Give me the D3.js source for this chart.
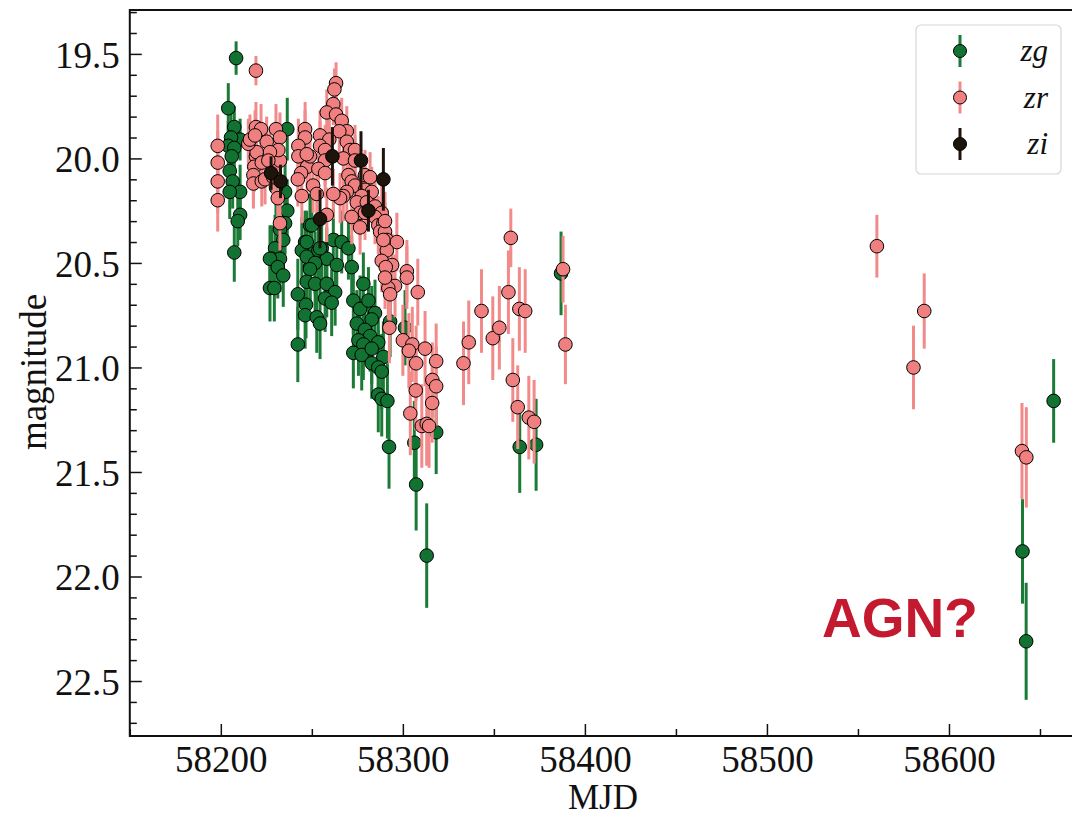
<!DOCTYPE html>
<html>
<head>
<meta charset="utf-8">
<script src="https://cdn.jsdelivr.net/npm/d3@7"></script>
<style>
	body { margin: 0; background: #fff; }
	svg { display: block; }
	text { font-family: "Liberation Serif", "DejaVu Serif", serif; fill: #111; }
</style>
</head>
<body>
<svg id="chart" width="1072" height="821"></svg>
<script>
// zg band
let zgMjd = [58208.4, 58204.1, 58207.4, 58210.6, 58205.6, 58204.1, 58207.4, 58206.0, 58204.9, 58206.5, 58210.6, 58204.9, 58210.6, 58209.3, 58207.4,
	58236.5, 58235.3, 58236.5, 58235.3, 58232.5, 58234.3, 58229.8, 58228.0, 58232.5, 58227.0, 58231.3, 58234.3, 58227.0, 58229.4, 58242.3, 58242.3,
	58249.0, 58246.3, 58244.5, 58249.0, 58246.8, 58246.3, 58247.2, 58253.6, 58255.4, 58261.8, 58266.4, 58270.1, 58258.2, 58263.7, 58271.9, 58251.8,
	58249.0, 58247.2, 58251.8, 58258.2, 58262.8, 58257.3, 58260.9, 58252.7, 58254.5, 58278.3, 58272.8, 58276.5, 58281.1, 58284.7, 58282.9, 58274.7,
	58279.2, 58282.0, 58286.5, 58275.6, 58278.3, 58272.8, 58277.4, 58282.9, 58289.3, 58282.9, 58286.5, 58288.4, 58286.5, 58288.4, 58291.5, 58293.0,
	58301.2, 58250.0, 58247.2, 58254.5, 58292.4, 58306.3, 58307.3, 58313.1, 58318.3, 58364.2, 58373.2, 58386.9, 58640.4, 58642.4, 58657.5, 58230.3];
let zgMag = [19.52, 19.76, 19.85, 19.91, 19.90, 19.94, 19.95, 19.99, 20.06, 20.11, 20.16, 20.16, 20.27, 20.30, 20.45,
	19.86, 20.16, 20.25, 20.31, 20.34, 20.39, 20.43, 20.48, 20.48, 20.48, 20.52, 20.56, 20.62, 20.62, 20.65, 20.89,
	20.32, 20.40, 20.44, 20.52, 20.70, 20.75, 20.47, 20.44, 20.43, 20.39, 20.40, 20.43, 20.48, 20.51, 20.52, 20.50,
	20.53, 20.59, 20.60, 20.60, 20.64, 20.67, 20.69, 20.76, 20.79, 20.60, 20.68, 20.72, 20.68, 20.74, 20.77, 20.79,
	20.82, 20.85, 20.88, 20.87, 20.89, 20.93, 20.94, 20.91, 20.95, 20.98, 21.00, 21.02, 21.13, 21.15, 21.16, 20.78,
	20.81, 20.32, 20.40, 20.43, 21.38, 21.36, 21.56, 21.90, 21.31, 21.38, 21.37, 20.55, 21.88, 22.31, 21.16, 20.14];
let zgErr = [0.08, 0.12, 0.10, 0.10, 0.12, 0.12, 0.12, 0.12, 0.13, 0.13, 0.13, 0.13, 0.12, 0.12, 0.14,
	0.15, 0.15, 0.15, 0.15, 0.15, 0.15, 0.16, 0.16, 0.16, 0.16, 0.15, 0.15, 0.16, 0.16, 0.17, 0.18,
	0.15, 0.15, 0.16, 0.16, 0.16, 0.16, 0.15, 0.15, 0.15, 0.15, 0.15, 0.15, 0.15, 0.15, 0.15, 0.15,
	0.16, 0.16, 0.16, 0.16, 0.16, 0.16, 0.16, 0.17, 0.17, 0.15, 0.16, 0.16, 0.16, 0.16, 0.16, 0.16,
	0.16, 0.17, 0.17, 0.17, 0.17, 0.17, 0.17, 0.17, 0.17, 0.17, 0.18, 0.18, 0.18, 0.18, 0.18, 0.17,
	0.18, 0.15, 0.15, 0.15, 0.20, 0.20, 0.22, 0.25, 0.20, 0.22, 0.22, 0.20, 0.25, 0.28, 0.20, 0.15];

// zr band
let zrMjd = [58219.3, 58198.3, 58198.3, 58198.3, 58198.3, 58219.3, 58222.1, 58230.3, 58232.5, 58246.3, 58246.3, 58242.6, 58242.6, 58247.4, 58244.1,
	58242.3, 58244.5, 58231.3, 58219.3, 58218.4, 58217.9, 58217.9, 58222.5, 58224.3, 58229.8, 58232.5, 58231.6, 58225.2, 58227.0, 58219.7, 58215.1,
	58216.0, 58218.8, 58222.5, 58226.1, 58228.8, 58232.5, 58249.0, 58250.7, 58263.3, 58262.4, 58261.8, 58258.2, 58263.3, 58266.4, 58269.2, 58265.1,
	58254.5, 58259.6, 58269.2, 58247.2, 58254.5, 58257.3, 58271.0, 58273.7, 58267.3, 58273.7, 58257.3, 58253.6, 58257.3, 58270.1, 58279.2, 58282.0,
	58271.9, 58273.7, 58279.2, 58282.9, 58269.2, 58267.3, 58265.5, 58261.8, 58252.7, 58277.4, 58274.7, 58280.2, 58284.7, 58288.4, 58276.5, 58279.2,
	58284.7, 58271.9, 58276.5, 58286.5, 58289.3, 58287.5, 58290.2, 58291.2, 58296.7, 58291.2, 58258.2, 58290.2, 58289.3, 58288.4, 58294.1, 58290.6,
	58302.2, 58302.2, 58295.7, 58292.0, 58293.0, 58308.2, 58290.2, 58292.6, 58300.0, 58305.2, 58303.3, 58312.2, 58307.3, 58318.3, 58316.2, 58318.3,
	58307.1, 58316.1, 58304.1, 58310.4, 58313.1, 58314.4, 58359.3, 58358.0, 58343.2, 58336.2, 58333.3, 58349.4, 58353.0, 58364.0, 58367.2, 58360.4,
	58363.1, 58369.2, 58372.1, 58388.0, 58389.3, 58560.4, 58580.5, 58586.4, 58640.1, 58642.5];
let zrMag = [19.58, 19.94, 20.02, 20.11, 20.20, 19.85, 19.86, 19.86, 19.90, 19.86, 19.90, 19.94, 19.99, 20.04, 20.07,
	20.10, 20.18, 20.19, 19.99, 20.04, 20.08, 20.12, 20.11, 20.10, 20.04, 20.01, 19.96, 19.92, 19.97, 19.97, 19.93,
	19.91, 19.89, 20.02, 20.01, 20.09, 20.31, 19.99, 20.13, 19.64, 19.67, 19.74, 19.78, 19.79, 19.82, 19.87, 19.87,
	19.89, 19.91, 19.92, 19.98, 19.94, 19.96, 19.96, 19.96, 20.00, 20.01, 20.01, 20.05, 20.07, 20.08, 20.08, 20.09,
	20.11, 20.13, 20.15, 20.16, 20.16, 20.18, 20.19, 20.17, 20.17, 20.18, 20.21, 20.21, 20.23, 20.26, 20.26, 20.26,
	20.28, 20.28, 20.33, 20.32, 20.31, 20.35, 20.35, 20.39, 20.40, 20.44, 20.27, 20.30, 20.39, 20.49, 20.51, 20.52,
	20.54, 20.57, 20.61, 20.62, 20.65, 20.64, 20.57, 20.81, 20.87, 20.89, 20.92, 20.91, 20.98, 20.97, 21.06, 21.09,
	21.11, 21.17, 21.22, 21.28, 21.27, 21.28, 20.38, 20.64, 20.73, 20.88, 20.98, 20.86, 20.81, 20.72, 20.73, 21.06,
	21.19, 21.24, 21.26, 20.53, 20.89, 20.42, 21.00, 20.73, 21.40, 21.43];
let zrErr = [0.07, 0.15, 0.15, 0.15, 0.15, 0.12, 0.12, 0.12, 0.12, 0.13, 0.13, 0.13, 0.13, 0.13, 0.13,
	0.13, 0.13, 0.13, 0.12, 0.12, 0.12, 0.12, 0.12, 0.12, 0.12, 0.12, 0.12, 0.12, 0.12, 0.12, 0.12,
	0.12, 0.12, 0.12, 0.12, 0.12, 0.13, 0.13, 0.13, 0.10, 0.10, 0.10, 0.11, 0.11, 0.11, 0.12, 0.12,
	0.12, 0.12, 0.12, 0.12, 0.12, 0.12, 0.12, 0.12, 0.12, 0.12, 0.12, 0.12, 0.12, 0.12, 0.12, 0.12,
	0.12, 0.12, 0.12, 0.12, 0.12, 0.12, 0.12, 0.12, 0.12, 0.12, 0.13, 0.13, 0.13, 0.13, 0.13, 0.13,
	0.13, 0.13, 0.13, 0.14, 0.14, 0.14, 0.14, 0.14, 0.14, 0.14, 0.13, 0.14, 0.14, 0.15, 0.15, 0.15,
	0.15, 0.15, 0.15, 0.15, 0.15, 0.16, 0.15, 0.17, 0.17, 0.18, 0.18, 0.18, 0.18, 0.18, 0.18, 0.19,
	0.19, 0.19, 0.20, 0.20, 0.20, 0.20, 0.14, 0.20, 0.20, 0.20, 0.20, 0.20, 0.20, 0.20, 0.20, 0.20,
	0.20, 0.20, 0.20, 0.16, 0.19, 0.15, 0.20, 0.18, 0.23, 0.24];

// zi band
let ziMjd = [58227.6, 58232.8, 58254.5, 58261.3, 58277.0, 58281.1, 58289.3];
let ziMag = [20.07, 20.11, 20.29, 19.99, 20.01, 20.25, 20.10];
let ziErr = [0.08, 0.08, 0.14, 0.14, 0.14, 0.10, 0.15];

let bands		= ['zg', 'zr', 'zi'];
let fills		= { zg: '#127232', zr: '#f08080', zi: '#1d140c' };
let barColors	= { zg: '#1a7a36', zr: '#f28a8a', zi: '#1d140c' };

let xTicks		= [58200, 58300, 58400, 58500, 58600];
let yTicks		= [19.5, 20.0, 20.5, 21.0, 21.5, 22.0, 22.5];

let svg		= d3.select('#chart');

let x		= d3.scaleLinear().domain([58150, 58670]).range([129.8, 1076.4]);
let y		= d3.scaleLinear().domain([19.29, 22.763]).range([10, 736]);

let series	= {
	zg: zgMjd.map((d, i) => ({ mjd: d, mag: zgMag[i], err: zgErr[i] })),
	zr: zrMjd.map((d, i) => ({ mjd: d, mag: zrMag[i], err: zrErr[i] })),
	zi: ziMjd.map((d, i) => ({ mjd: d, mag: ziMag[i], err: ziErr[i] }))
};

// data: bars first, then markers, per band
bands.forEach(b => {
	let g	= svg.append('g').attr('class', 'band-' + b);

	g.selectAll('line').data(series[b]).join('line')
		.attr('x1', d => x(d.mjd)).attr('x2', d => x(d.mjd))
		.attr('y1', d => y(d.mag - d.err)).attr('y2', d => y(d.mag + d.err))
		.style('stroke', barColors[b]).style('stroke-width', 3);

	g.selectAll('circle').data(series[b]).join('circle')
		.attr('cx', d => x(d.mjd)).attr('cy', d => y(d.mag)).attr('r', 6.8)
		.style('fill', fills[b]).style('stroke', '#000').style('stroke-width', 1);
});

// axes, ticks pointing in
let xMinor	= d3.range(58150, 58670, 50).filter(v => !xTicks.includes(v));
let yMinor	= d3.range(19.3, 22.75, 0.1).map(v => +v.toFixed(1)).filter(v => !yTicks.includes(v));

svg.append('g').attr('transform', 'translate(0,736)')
	.call(d3.axisBottom(x).tickValues(xMinor).tickSize(-7).tickFormat(''))
	.call(g => g.select('.domain').remove());
svg.append('g').attr('transform', 'translate(129.8,0)')
	.call(d3.axisLeft(y).tickValues(yMinor).tickSize(-7).tickFormat(''))
	.call(g => g.select('.domain').remove());

let xAxis	= svg.append('g').attr('transform', 'translate(0,736)')
	.call(d3.axisBottom(x).tickValues(xTicks).tickSize(-12).tickPadding(10).tickFormat(d3.format('d')));
let yAxis	= svg.append('g').attr('transform', 'translate(129.8,0)')
	.call(d3.axisLeft(y).tickValues(yTicks).tickSize(-12).tickPadding(10).tickFormat(d3.format('.1f')));

svg.selectAll('.tick line').style('stroke', '#111').style('stroke-width', 1.5);
xAxis.selectAll('.tick text').style('font-size', '37px').attr('dy', '0.71em');
yAxis.selectAll('.tick text').style('font-size', '37px').attr('dy', '0.36em');
svg.selectAll('.domain').remove();

// frame
svg.append('rect').attr('x', 129.8).attr('y', 10).attr('width', 1076.4 - 129.8).attr('height', 726)
	.style('fill', 'none').style('stroke', '#111').style('stroke-width', 2);

svg.append('text').attr('x', 603).attr('y', 809).attr('text-anchor', 'middle').style('font-size', '35px').text('MJD');
svg.append('text').attr('transform', 'translate(46,372) rotate(-90)').attr('text-anchor', 'middle').style('font-size', '37px').text('magnitude');

// legend
let legend	= svg.append('g').attr('transform', 'translate(916,25)');
legend.append('rect').attr('width', 145).attr('height', 149).attr('rx', 5)
	.style('fill', '#fff').style('fill-opacity', 0.85).style('stroke', '#d6d6d6').style('stroke-width', 1.2);

bands.forEach((b, i) => {
	let row	= legend.append('g').attr('transform', 'translate(44,' + (26 + i * 46.5) + ')');
	row.append('line').attr('y1', -16).attr('y2', 16).style('stroke', barColors[b]).style('stroke-width', 3);
	row.append('circle').attr('r', 6.5).style('fill', fills[b]).style('stroke', '#000').style('stroke-width', 1);
	row.append('text').attr('x', 88).attr('y', 10).attr('text-anchor', 'end')
		.style('font-size', '31px').style('font-style', 'italic').text(b);
});

svg.append('text').attr('x', 822).attr('y', 637)
	.style('font-family', '"Liberation Sans", Arial, sans-serif').style('font-weight', 'bold')
	.style('font-size', '55px').style('fill', '#c41a30').text('AGN?');
</script>
</body>
</html>
